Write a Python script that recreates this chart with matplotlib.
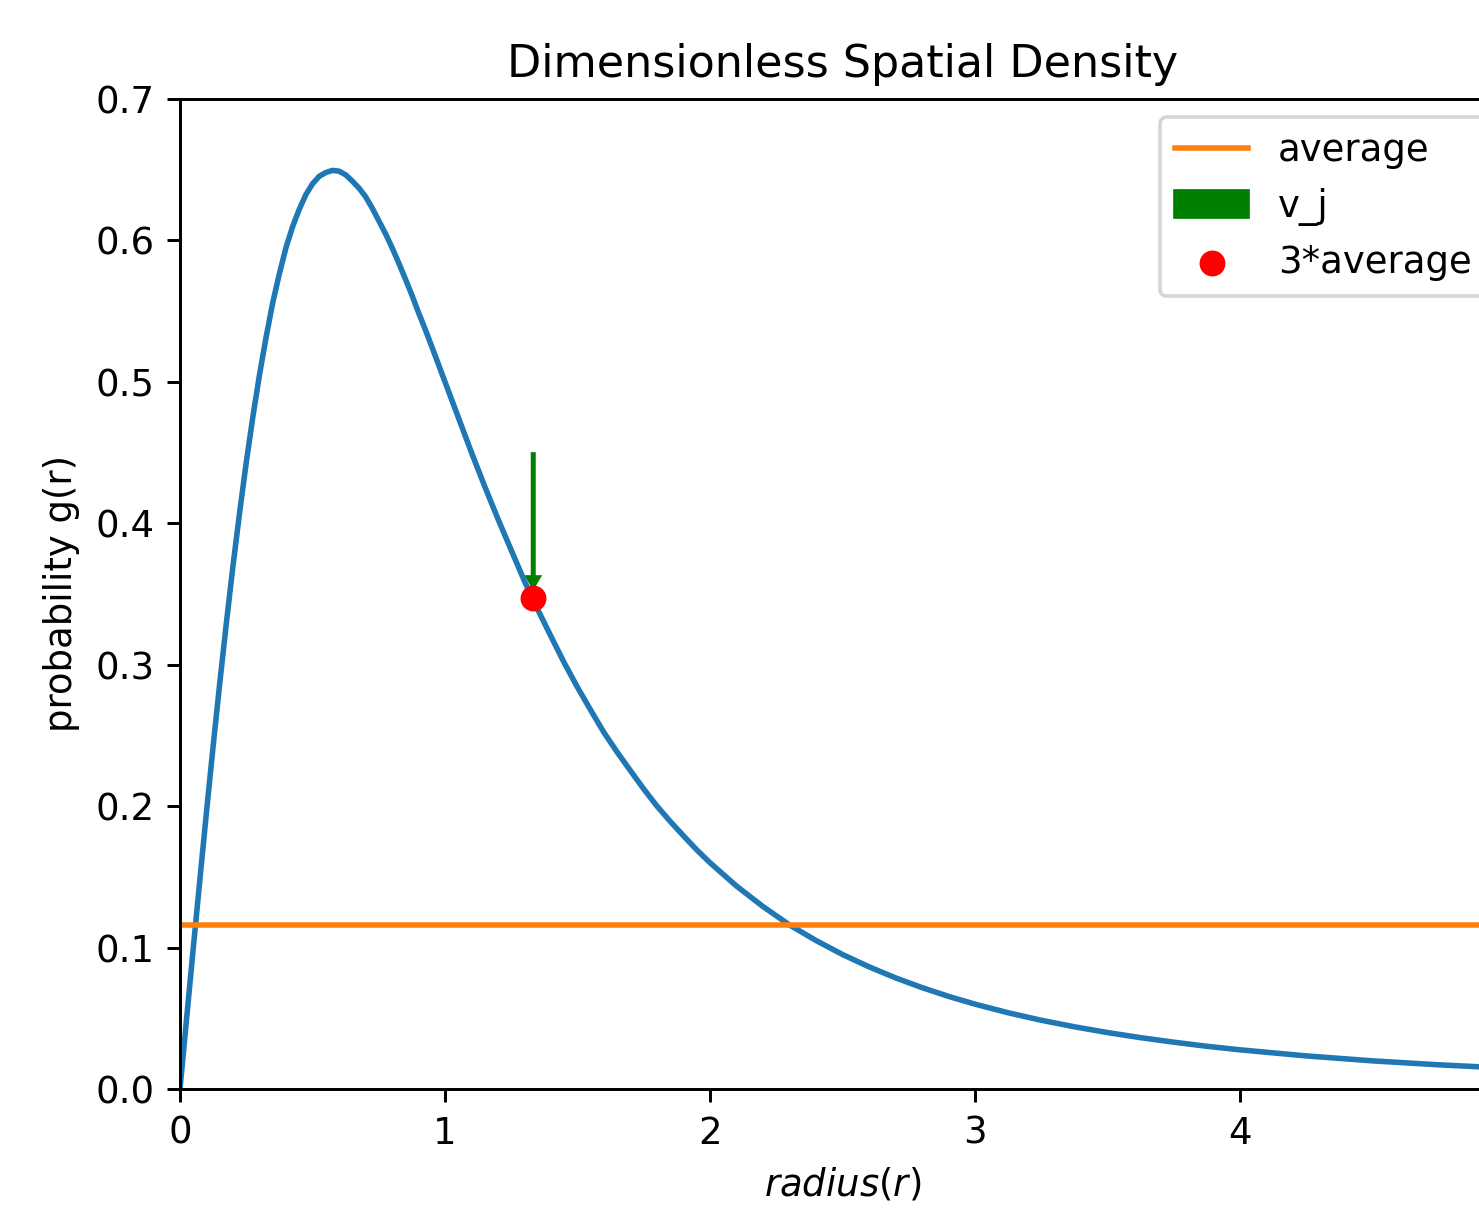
import matplotlib.pyplot as plt

# values
radius = [0.0, 0.025, 0.05, 0.075, 0.1, 0.125, 0.15, 0.175, 0.2, 0.225, 0.25, 0.275,
          0.3, 0.325, 0.35, 0.375, 0.4, 0.425, 0.45, 0.475, 0.5, 0.525, 0.55, 0.575,
          0.6, 0.625, 0.65, 0.675, 0.7, 0.725, 0.75, 0.775, 0.8, 0.825, 0.85, 0.875,
          0.9, 0.925, 0.95, 0.975, 1.0, 1.05, 1.1, 1.15, 1.2, 1.25, 1.3, 1.35, 1.4,
          1.45, 1.5, 1.55, 1.6, 1.65, 1.7, 1.75, 1.8, 1.85, 1.9, 1.95, 2.0, 2.1, 2.2,
          2.3, 2.4, 2.5, 2.6, 2.7, 2.8, 2.9, 3.0, 3.125, 3.25, 3.375, 3.5, 3.625,
          3.75, 3.875, 4.0, 4.25, 4.5, 4.75, 5.0, 5.25]
density = [0.0, 0.050, 0.0995, 0.148, 0.196, 0.2424, 0.287, 0.3295, 0.370, 0.4077,
           0.443, 0.4754, 0.505, 0.5317, 0.556, 0.5765, 0.595, 0.6098, 0.622, 0.6324,
           0.640, 0.6453, 0.648, 0.6495, 0.649, 0.6464, 0.642, 0.6371, 0.631, 0.6230,
           0.614, 0.6050, 0.595, 0.5842, 0.573, 0.5614, 0.549, 0.5373, 0.525, 0.5125,
           0.500, 0.475, 0.450, 0.426, 0.403, 0.381, 0.359, 0.339, 0.320, 0.3013,
           0.284, 0.2678, 0.252, 0.2381, 0.225, 0.2121, 0.200, 0.1892, 0.179, 0.1691,
           0.160, 0.1435, 0.129, 0.116, 0.105, 0.0951, 0.0864, 0.0786, 0.0717, 0.0655,
           0.060, 0.0539, 0.0486, 0.0440, 0.0399, 0.0363, 0.0331, 0.0302, 0.0277,
           0.0234, 0.0199, 0.0171, 0.0148, 0.0129]
average = 0.1157
v_j_x = 1.333
v_j_top = 0.449
v_j_dy = -0.087
x_ticks = [0, 1, 2, 3, 4]


def main():
    dpi = 266
    fig = plt.figure(figsize=(1479 / dpi, 1209 / dpi), dpi=dpi)
    ax = fig.add_axes([180 / 1479, 120 / 1209, 1325 / 1479, 990 / 1209])

    ax.plot(radius, density)
    ax.axhline(average, color='C1', label='average')
    ax.arrow(v_j_x, v_j_top, 0, v_j_dy, width=0.005, head_width=0.043,
             head_length=0.007, color='green', label='v_j')
    ax.scatter([v_j_x], [3 * average], color='red', label='3*average', zorder=3)

    ax.set_xlim(0, 5)
    ax.set_ylim(0, 0.7)
    ax.set_xticks(x_ticks)
    ax.set_title('Dimensionless Spatial Density')
    ax.set_xlabel('$radius(r)$')
    ax.set_ylabel('probability g(r)')
    ax.legend(loc='upper right')

    fig.savefig('out.png', dpi=dpi)


if __name__ == '__main__':
    main()
